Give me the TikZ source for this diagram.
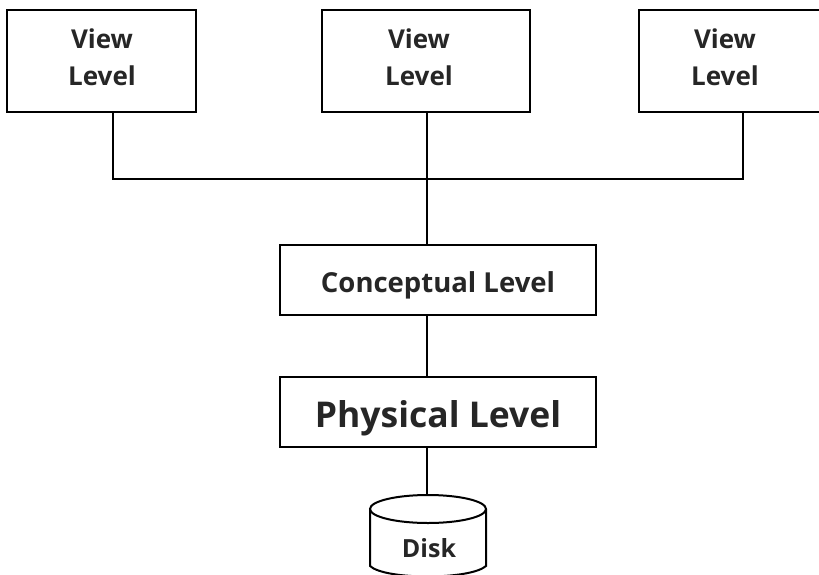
\documentclass[tikz,border=0pt]{standalone}
\usepackage{fontspec}
\setmainfont{Open Sans}
\tikzset{
 lvl/.style={draw=black,line width=2pt,fill=white,inner sep=0pt,align=center,text=black!85},
 conn/.style={draw=black,line width=2pt},
 viewfont/.style={font=\bfseries\fontsize{26}{37}\selectfont},
}
\begin{document}
\begin{tikzpicture}[x=1pt,y=-1pt]
\useasboundingbox (0,0) rectangle (819,575);
\node[lvl,minimum width=189pt,minimum height=102pt] (v1) at (101.5,61) {};
\node[lvl,minimum width=208pt,minimum height=102pt] (v2) at (426,61) {};
\node[lvl,minimum width=209pt,minimum height=102pt] (v3) at (743,61) {};
\node[viewfont,text=black!85,align=center] (t1) at (102,57) {View\\Level};
\node[viewfont,text=black!85,align=center] (t2) at (419,57) {View\\Level};
\node[viewfont,text=black!85,align=center] (t3) at (725,57) {View\\Level};
\node[lvl,minimum width=316pt,minimum height=70pt,font=\bfseries\fontsize{27.5}{32}\selectfont] (c) at (438,280) {\raisebox{-12pt}[0pt][0pt]{Conceptual Level}};
\node[lvl,minimum width=316pt,minimum height=70pt,font=\bfseries\fontsize{35.5}{40}\selectfont] (p) at (438,412) {\raisebox{-15pt}[0pt][0pt]{Physical Level}};
\coordinate (j1) at (113,179);
\coordinate (j3) at (743,179);
\coordinate (j2) at (427,179);
\draw[conn] (j1 |- v1.south) -- (j1) -- (j3) -- (j3 |- v3.south);
\draw[conn] (j2 |- v2.south) -- (j2 |- c.north);
\draw[conn] (j2 |- c.south) -- (j2 |- p.north);
\draw[conn,fill=white] (370,509) -- (370,566) .. controls (385,580) and (470,580) .. (486,566) -- (486,509);
\draw[conn,fill=white] (428,509) ellipse [x radius=58, y radius=14];
\coordinate (dtop) at (427,495);
\draw[conn] (j2 |- p.south) -- (dtop);
\node[font=\bfseries\fontsize{25}{30}\selectfont,text=black!85] (d) at (429,548) {Disk};
\end{tikzpicture}
\end{document}
